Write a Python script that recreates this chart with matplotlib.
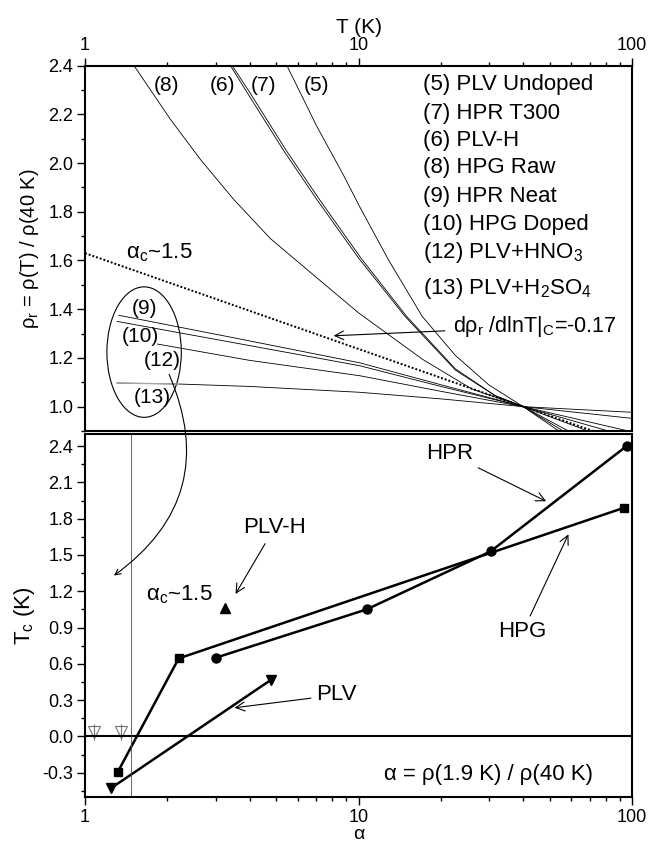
import matplotlib
matplotlib.use('Agg')
import matplotlib.pyplot as plt
from matplotlib.patches import Ellipse
from matplotlib.ticker import MultipleLocator, FuncFormatter, FormatStrFormatter

plt.rcParams['font.family'] = ['Liberation Sans', 'DejaVu Sans']
plt.rcParams['mathtext.fontset'] = 'custom'
plt.rcParams['mathtext.rm'] = 'Liberation Sans'
plt.rcParams['mathtext.it'] = 'Liberation Sans'
plt.rcParams['mathtext.bf'] = 'Liberation Sans:bold'

# normalised resistance rho(T)/rho(40 K) for each sample
t5 = [5.47, 7.04, 8.81, 10.1, 12.9, 17.1, 22.6, 29.9, 40, 56]
r5 = [2.40, 2.15, 1.95, 1.82, 1.60, 1.37, 1.21, 1.09, 1.00, 0.90]
t6 = [3.40, 3.91, 5.33, 7.04, 10.0, 14.8, 22.6, 31.6, 40, 54]
r6 = [2.40, 2.29, 2.05, 1.85, 1.61, 1.37, 1.15, 1.045, 1.00, 0.90]
t7 = [3.45, 4.00, 5.45, 7.20, 10.2, 15.0, 22.6, 31.6, 40, 58.5]
r7 = [2.40, 2.29, 2.05, 1.85, 1.61, 1.37, 1.155, 1.045, 1.00, 0.90]
t8 = [1.51, 2.05, 2.64, 3.50, 4.76, 6.85, 10.0, 17.1, 26.0, 40, 69]
r8 = [2.40, 2.18, 2.015, 1.85, 1.69, 1.54, 1.385, 1.195, 1.072, 1.00, 0.90]
t9 = [1.33, 3.6, 10.1, 20, 40, 82]
r9 = [1.375, 1.28, 1.18, 1.09, 1.00, 0.90]
t10 = [1.31, 3.6, 10.1, 20, 40, 97]
r10 = [1.35, 1.26, 1.168, 1.083, 1.00, 0.90]
t12 = [1.84, 4.0, 10.1, 20, 40, 100]
r12 = [1.257, 1.19, 1.127, 1.063, 1.00, 0.952]
t13 = [1.31, 2.2, 4.0, 10.1, 20, 40, 100]
r13 = [1.097, 1.093, 1.083, 1.059, 1.032, 1.00, 0.977]
# critical slope d rho_r / d lnT = -0.17
tc_line = [1.0, 40, 72]
rc_line = [1.63, 1.00, 0.90]

# transition temperature vs alpha
hpr_alpha = [3.0, 10.7, 30.4, 95.4]
hpr_tc = [0.65, 1.05, 1.53, 2.40]
hpg_alpha = [1.32, 2.2, 93.4]
hpg_tc = [-0.29, 0.645, 1.89]
plv_alpha = [1.24, 4.8]
plv_tc = [-0.43, 0.47]
plvh_alpha = [3.25]
plvh_tc = [1.06]
none_alpha = [1.08, 1.35]
none_tc = [0.04, 0.04]
alpha_c = 1.47

legend_lines = ['(5) PLV Undoped', '(7) HPR T300', '(6) PLV-H', '(8) HPG Raw',
                '(9) HPR Neat', '(10) HPG Doped', '(12) PLV+HNO$_3$',
                '(13) PLV+H$_2$SO$_4$']
legend_y = [0.949, 0.869, 0.796, 0.721, 0.641, 0.564, 0.489, 0.390]

fig = plt.figure(figsize=(6.49, 8.46), dpi=100)
ax1 = fig.add_axes([0.131, 0.4905, 0.843, 0.432])
ax2 = fig.add_axes([0.131, 0.058, 0.843, 0.429])

fmt_int = FuncFormatter(lambda v, p: f'{v:g}')
for ax in (ax1, ax2):
    ax.set_xscale('log')
    ax.set_xlim(1, 100)
    ax.xaxis.set_major_formatter(fmt_int)
    for s in ax.spines.values():
        s.set_linewidth(1.5)
    ax.tick_params(which='major', length=5.5, width=1.0, labelsize=13,
                   direction='out', pad=3)
    ax.tick_params(which='minor', length=3, width=1.0, direction='out')
    ax.tick_params(axis='y', right=False)

# ---- upper panel ----
lw = 0.6
ax1.plot(t5, r5, color='k', lw=lw)
ax1.plot(t6, r6, color='k', lw=lw)
ax1.plot(t7, r7, color='k', lw=lw)
ax1.plot(t8, r8, color='k', lw=lw)
ax1.plot(t9, r9, color='k', lw=lw)
ax1.plot(t10, r10, color='k', lw=lw)
ax1.plot(t12, r12, color='k', lw=lw)
ax1.plot(t13, r13, color='k', lw=lw)
ax1.plot(t13[:2], r13[:2], color='0.65', lw=1.0)
ax1.plot(tc_line, rc_line, color='k', lw=1.4, ls=(0, (1, 1)))

ax1.set_ylim(0.9, 2.4)
ax1.yaxis.set_major_locator(MultipleLocator(0.2))
ax1.yaxis.set_minor_locator(MultipleLocator(0.1))
ax1.yaxis.set_major_formatter(FormatStrFormatter('%.1f'))
ax1.xaxis.tick_top()
ax1.xaxis.set_label_position('top')
ax1.tick_params(axis='x', which='both', bottom=False, top=True,
                labelbottom=False, labeltop=True)
ax1.set_xlabel('T (K)', fontsize=15, labelpad=3)
ax1.set_ylabel(r'ρ$_\mathrm{r}$ = ρ(T) / ρ(40 K)', fontsize=14.5, labelpad=5)

for txt, y in zip(legend_lines, legend_y):
    ax1.text(0.617, y, txt, transform=ax1.transAxes, fontsize=16,
             ha='left', va='center')

for txt, x in zip(['(8)', '(6)', '(7)', '(5)'], [0.149, 0.251, 0.327, 0.423]):
    ax1.text(x, 0.946, txt, transform=ax1.transAxes, fontsize=15,
             ha='center', va='center')
for txt, x, y in zip(['(9)', '(10)', '(12)', '(13)'],
                     [0.108, 0.102, 0.141, 0.123],
                     [0.336, 0.258, 0.194, 0.092]):
    ax1.text(x, y, txt, transform=ax1.transAxes, fontsize=15,
             ha='center', va='center')
ax1.text(0.075, 0.488, r'α$_\mathrm{c}$~1.5', transform=ax1.transAxes,
         fontsize=16, ha='left', va='center')

ax1.add_patch(Ellipse((0.108, 0.216), 0.136, 0.357, transform=ax1.transAxes,
                      fill=False, lw=0.8, ec='k'))

ax1.annotate(r'dρ$_\mathrm{r}$ /dlnT|$_\mathrm{C}$=-0.17', xy=(8.11, 1.291),
             xytext=(0.673, 0.285), textcoords='axes fraction',
             fontsize=15.5, ha='left', va='center',
             arrowprops=dict(arrowstyle='->', lw=0.8, shrinkA=4, shrinkB=0))

# ---- lower panel ----
ax2.plot(hpr_alpha, hpr_tc, color='k', lw=1.8, marker='o', ms=6.5)
ax2.plot(hpg_alpha, hpg_tc, color='k', lw=1.8, marker='s', ms=5.5)
ax2.plot(plv_alpha, plv_tc, color='k', lw=1.8, marker='v', ms=7.5)
ax2.plot(plvh_alpha, plvh_tc, color='k', lw=0, marker='^', ms=7)
ax2.plot(none_alpha, none_tc, ls='none', marker='v', ms=8, mfc='white',
         mec='0.45', mew=0.8)
ax2.plot(none_alpha, none_tc, ls='none', marker='|', ms=12, mec='0.45', mew=0.8)
ax2.axhline(0, color='k', lw=1.5)
ax2.axvline(alpha_c, color='0.3', lw=0.6)

ax2.set_ylim(-0.5, 2.5)
ax2.yaxis.set_major_locator(MultipleLocator(0.3))
ax2.yaxis.set_minor_locator(MultipleLocator(0.15))
ax2.yaxis.set_major_formatter(FormatStrFormatter('%.1f'))
ax2.tick_params(axis='x', which='both', top=False)
ax2.set_xlabel('α', fontsize=14, labelpad=0)
ax2.set_ylabel(r'T$_\mathrm{c}$ (K)', fontsize=16, labelpad=4)

arrow = dict(arrowstyle='->', lw=0.8, shrinkA=2, shrinkB=0)
ax2.annotate('HPR', xy=(48.5, 1.944), xytext=(0.666, 0.946),
             textcoords='axes fraction', fontsize=16, ha='center',
             va='center', arrowprops=arrow)
ax2.annotate('HPG', xy=(58.5, 1.671), xytext=(0.8, 0.455),
             textcoords='axes fraction', fontsize=16, ha='center',
             va='center', arrowprops=arrow)
ax2.annotate('PLV-H', xy=(3.55, 1.178), xytext=(0.346, 0.741),
             textcoords='axes fraction', fontsize=16, ha='center',
             va='center', arrowprops=arrow)
ax2.annotate('PLV', xy=(3.52, 0.237), xytext=(0.46, 0.281),
             textcoords='axes fraction', fontsize=16, ha='center',
             va='center', arrowprops=arrow)
ax2.text(0.1115, 0.556, r'α$_\mathrm{c}$~1.5', transform=ax2.transAxes,
         fontsize=16, ha='left', va='center')
ax2.text(0.738, 0.0606, 'α = ρ(1.9 K) / ρ(40 K)', transform=ax2.transAxes,
         fontsize=16, ha='center', va='center')

# curved pointer from the (12) label down into the lower panel
ax2.annotate('', xy=(1.276, 1.33), xycoords='data', xytext=(2.03, 1.132),
             textcoords=ax1.transData, annotation_clip=False,
             arrowprops=dict(arrowstyle='->', lw=0.8, shrinkA=0, shrinkB=0,
                             connectionstyle='arc3,rad=-0.4'))

fig.savefig('out.png', dpi=100)
